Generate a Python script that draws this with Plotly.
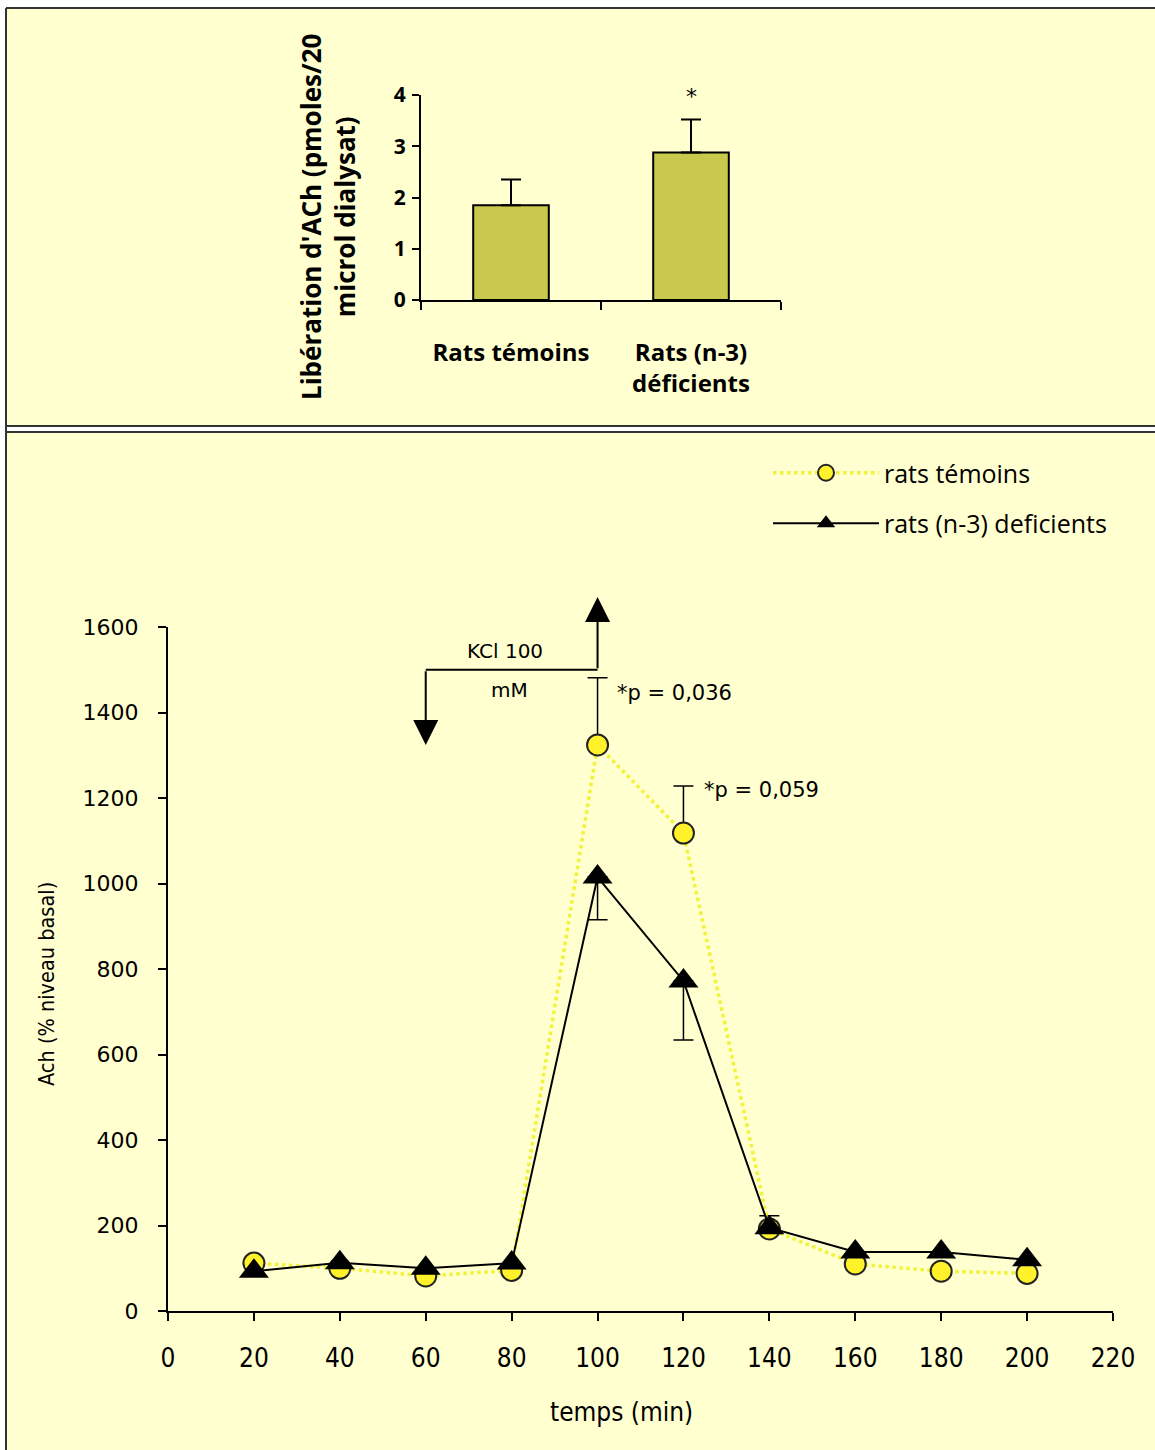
import plotly.graph_objects as go

# ---------------- data ----------------
# top bar chart
bar_categories = ["Rats témoins", "Rats (n-3)<br>déficients"]
bar_values = [1.85, 2.88]
bar_errors = [0.50, 0.64]
bar_yticks = [0, 1, 2, 3, 4]

# bottom time course
time_min = [20, 40, 60, 80, 100, 120, 140, 160, 180, 200]
temoins = [112, 100, 82, 95, 1324, 1118, 192, 110, 93, 88]
temoins_err_up = [0, 0, 0, 0, 157, 110, 0, 0, 0, 0]
deficients = [93, 113, 100, 112, 1015, 772, 195, 138, 138, 120]
deficients_err_up = [0, 0, 0, 0, 0, 0, 28, 0, 0, 0]
deficients_err_down = [0, 0, 0, 0, 100, 138, 0, 0, 0, 0]
x_ticks = [0, 20, 40, 60, 80, 100, 120, 140, 160, 180, 200, 220]
y_ticks = [0, 200, 400, 600, 800, 1000, 1200, 1400, 1600]

# ---------------- figure ----------------
W, H = 1155, 1450
BG = "#FFFFCF"
BAR = "#C9C94E"
YEL_LINE = "#F2F23A"
YEL_FILL = "#FFF22A"

def fx(px):
    return px / W

def fy(py):
    return 1 - py / H

fig = go.Figure()

# top bars
fig.add_trace(go.Bar(
    x=bar_categories, y=bar_values,
    marker=dict(color=BAR, line=dict(color="black", width=2)),
    width=0.42,
    error_y=dict(type="data", array=bar_errors, arrayminus=[0] * len(bar_errors),
                 symmetric=False, color="black", thickness=2, width=10),
    xaxis="x", yaxis="y", showlegend=False, hoverinfo="skip",
))

# error-bar-only helper traces (only points that have error bars)
t_idx = [i for i, e in enumerate(temoins_err_up) if e]
fig.add_trace(go.Scatter(
    x=[time_min[i] for i in t_idx], y=[temoins[i] for i in t_idx],
    mode="markers", marker=dict(size=1, color="rgba(0,0,0,0)"),
    error_y=dict(type="data", array=[temoins_err_up[i] for i in t_idx],
                 arrayminus=[0] * len(t_idx), symmetric=False,
                 color="black", thickness=1.5, width=10),
    xaxis="x2", yaxis="y2", showlegend=False, hoverinfo="skip",
))
d_idx = [i for i in range(len(time_min)) if deficients_err_up[i] or deficients_err_down[i]]
fig.add_trace(go.Scatter(
    x=[time_min[i] for i in d_idx], y=[deficients[i] for i in d_idx],
    mode="markers", marker=dict(size=1, color="rgba(0,0,0,0)"),
    error_y=dict(type="data", array=[deficients_err_up[i] for i in d_idx],
                 arrayminus=[deficients_err_down[i] for i in d_idx], symmetric=False,
                 color="black", thickness=1.5, width=10),
    xaxis="x2", yaxis="y2", showlegend=False, hoverinfo="skip",
))

fig.add_trace(go.Scatter(
    x=time_min, y=temoins, mode="lines+markers", name="rats témoins",
    line=dict(color=YEL_LINE, width=3.5, dash="dot"),
    marker=dict(symbol="circle", size=21, color=YEL_FILL, line=dict(color="#222", width=2)),
    xaxis="x2", yaxis="y2", legendgroup="a",
))
fig.add_trace(go.Scatter(
    x=time_min, y=deficients, mode="lines+markers", name="rats (n-3) deficients",
    line=dict(color="black", width=2),
    marker=dict(symbol="triangle-up", size=26, color="black"),
    xaxis="x2", yaxis="y2", legendgroup="b",
))

# panel frames
fig.add_shape(type="rect", xref="paper", yref="paper", layer="below",
              x0=fx(6), x1=1.01, y0=-0.01, y1=fy(8), fillcolor=BG, line=dict(width=0))
fig.add_shape(type="line", xref="paper", yref="paper", layer="below",
              x0=fx(6), x1=1.01, y0=fy(8), y1=fy(8), line=dict(color="#333", width=2))
fig.add_shape(type="line", xref="paper", yref="paper", layer="below",
              x0=fx(6), x1=fx(6), y0=-0.01, y1=fy(8), line=dict(color="#333", width=2))
fig.add_shape(type="rect", xref="paper", yref="paper", layer="below",
              x0=fx(7), x1=1.01, y0=fy(431), y1=fy(427), fillcolor="white",
              line=dict(width=0))
fig.add_shape(type="line", xref="paper", yref="paper", layer="below",
              x0=fx(6), x1=1.01, y0=fy(426), y1=fy(426), line=dict(color="#333", width=2))
fig.add_shape(type="line", xref="paper", yref="paper", layer="below",
              x0=fx(6), x1=1.01, y0=fy(432), y1=fy(432), line=dict(color="#333", width=2))

# KCl arrows
fig.add_shape(type="line", xref="x2", yref="y2", x0=60, x1=100, y0=1500, y1=1500,
              line=dict(color="black", width=2))
fig.add_annotation(xref="x2", yref="y2", axref="x2", ayref="y2",
                   x=100, y=1670, ax=100, ay=1500, text="", showarrow=True,
                   arrowhead=2, arrowsize=2.5, arrowwidth=2, arrowcolor="black")
fig.add_annotation(xref="x2", yref="y2", axref="x2", ayref="y2",
                   x=60, y=1324, ax=60, ay=1500, text="", showarrow=True,
                   arrowhead=2, arrowsize=2.5, arrowwidth=2, arrowcolor="black")

small = dict(family="DejaVu Sans", size=20, color="black")
pfont = dict(family="DejaVu Sans", size=21, color="black")
fig.add_annotation(xref="x2", yref="y2", x=78.5, y=1544, text="KCl 100",
                   showarrow=False, font=small)
fig.add_annotation(xref="x2", yref="y2", x=79.6, y=1453, text="mM",
                   showarrow=False, font=small)
fig.add_annotation(xref="x2", yref="y2", x=104.1, y=1446, text="*p = 0,036",
                   showarrow=False, xanchor="left", font=pfont)
fig.add_annotation(xref="x2", yref="y2", x=124.2, y=1219, text="*p = 0,059",
                   showarrow=False, xanchor="left", font=pfont)

# top asterisk
fig.add_annotation(xref="x", yref="y", x=bar_categories[1], y=4, yshift=-1, text="*",
                   showarrow=False, font=dict(family="DejaVu Sans", size=22, color="black"))

# top y title (two lines, bold)
fig.add_annotation(xref="paper", yref="paper", x=fx(328), y=fy(217),
                   xanchor="center", yanchor="middle",
                   text="Libération d'ACh (pmoles/20<br>microl dialysat)",
                   textangle=-90, showarrow=False,
                   font=dict(family="Open Sans", size=26, color="black", weight="bold"))

cond = "DejaVu Sans Condensed"
# bottom axis titles
fig.add_annotation(xref="paper", yref="paper", x=fx(46), y=fy(984),
                   xanchor="center", yanchor="middle", textangle=-90, showarrow=False,
                   text="Ach (% niveau basal)",
                   font=dict(family=cond, size=21.5, color="black"))
fig.add_annotation(xref="paper", yref="paper", x=fx(621), y=fy(1412),
                   xanchor="center", yanchor="middle", showarrow=False,
                   text="temps (min)",
                   font=dict(family=cond, size=26, color="black"))

bold = dict(family="Open Sans", size=21, color="black", weight="bold")
catfont = dict(family="Open Sans", size=24, color="black", weight="bold")
fig.update_layout(
    width=W, height=H, autosize=False,
    margin=dict(l=0, r=0, t=0, b=0, pad=0, autoexpand=False),
    paper_bgcolor="white", plot_bgcolor="rgba(0,0,0,0)",
    showlegend=True,
    legend=dict(x=fx(768), y=fy(450), xanchor="left", yanchor="top",
                bgcolor="rgba(0,0,0,0)", tracegroupgap=15, itemwidth=106,
                font=dict(family="Open Sans", size=25, color="black")),
    xaxis=dict(domain=[fx(421), fx(781)], anchor="y", type="category", automargin=False,
               range=[-0.5, 1.5], showline=True, linecolor="black", linewidth=2,
               ticks="outside", tickson="boundaries", ticklen=8, tickwidth=2,
               tickcolor="black", showgrid=False, zeroline=False,
               tickfont=catfont, ticklabelstandoff=30),
    yaxis=dict(domain=[fy(300), fy(95)], anchor="x", range=[0, 4], automargin=False,
               tickvals=bar_yticks, showline=True, linecolor="black", linewidth=2,
               ticks="outside", ticklen=7, tickwidth=2, tickcolor="black",
               showgrid=False, zeroline=False, tickfont=bold, ticklabelstandoff=2),
    xaxis2=dict(domain=[fx(168), fx(1113)], anchor="y2", range=[0, 220], automargin=False,
                tickvals=x_ticks, showline=True, linecolor="black", linewidth=2,
                ticks="outside", ticklen=8, tickwidth=2, tickcolor="black",
                showgrid=False, zeroline=False, ticklabelstandoff=15,
                tickfont=dict(family=cond, size=26, color="black")),
    yaxis2=dict(domain=[fy(1311), fy(627)], anchor="x2", range=[0, 1600], automargin=False,
                tickvals=y_ticks, showline=True, linecolor="black", linewidth=2,
                ticks="outside", ticklen=8, tickwidth=2, tickcolor="black",
                showgrid=False, zeroline=False, ticklabelstandoff=15,
                tickfont=dict(family="DejaVu Sans", size=22, color="black")),
)

fig.write_html("out.html", config={"displayModeBar": False},
               post_script="document.body.style.margin='0';")
